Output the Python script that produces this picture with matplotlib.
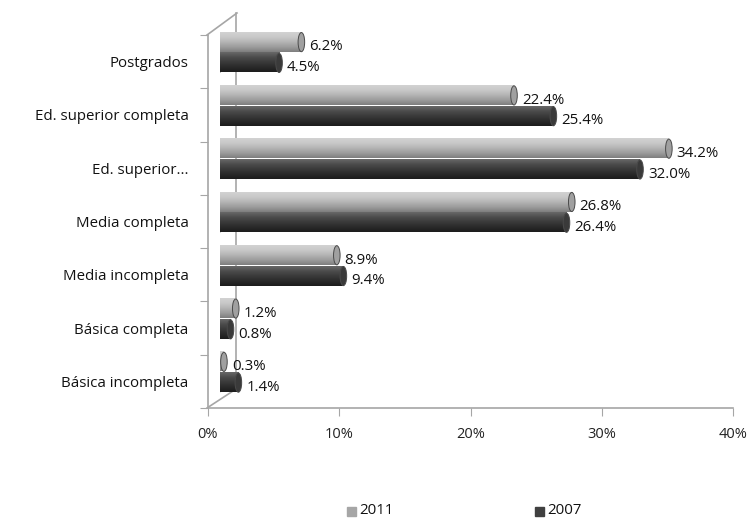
import numpy as np
import matplotlib.pyplot as plt
from matplotlib.colors import LinearSegmentedColormap
from matplotlib.patches import Ellipse
from matplotlib.lines import Line2D

# datos (de abajo hacia arriba)
categorias = ['Básica incompleta', 'Básica completa', 'Media incompleta',
              'Media completa', 'Ed. superior...', 'Ed. superior completa',
              'Postgrados']
v2011 = [0.3, 1.2, 8.9, 26.8, 34.2, 22.4, 6.2]
v2007 = [1.4, 0.8, 9.4, 26.4, 32.0, 25.4, 4.5]
xticks = [0, 10, 20, 30, 40]

plt.rcParams['font.family'] = ['Open Sans', 'DejaVu Sans']

W, H = 749, 518
fig = plt.figure(figsize=(W / 100, H / 100), dpi=100)


def rect(x0, ytop, x1, ybot):
    return [x0 / W, 1 - ybot / H, (x1 - x0) / W, (ybot - ytop) / H]


# eje frontal (escala y etiquetas)
ax = fig.add_axes(rect(208, 35, 733, 408))
ax.set_xlim(0, 40)
ax.set_ylim(0, 7)
for s in ['top', 'right']:
    ax.spines[s].set_visible(False)
for s in ['bottom', 'left']:
    ax.spines[s].set_color('#a6a6a6')
    ax.spines[s].set_linewidth(1.2)
ax.set_xticks(xticks)
ax.set_xticklabels([f'{t}%' for t in xticks], fontsize=10.5, color='#222222')
ax.tick_params(axis='x', direction='out', length=6, color='#a6a6a6', pad=8)
ax.set_yticks(range(8))
ax.set_yticklabels([])
ax.tick_params(axis='y', which='major', direction='out', length=6, color='#a6a6a6')
ax.set_yticks(np.arange(7) + 0.5, minor=True)
ax.set_yticklabels(categorias, minor=True, fontsize=10.8, color='#111111')
ax.tick_params(axis='y', which='minor', length=0, pad=14)
ax.patch.set_alpha(0)

# paredes "3D"
gris = '#a6a6a6'
for (x0, y0), (x1, y1) in [((207, 35), (237, 13)), ((207, 408), (233, 391)),
                           ((236, 13), (236, 391))]:
    fig.add_artist(Line2D([x0 / W, x1 / W], [1 - y0 / H, 1 - y1 / H],
                          color=gris, lw=1.2, zorder=0))

# eje de barras, desplazado hacia el fondo
axb = fig.add_axes(rect(208 + 12, 35 - 11, 733 + 12, 408 - 11))
axb.set_xlim(0, 40)
axb.set_ylim(0, 7)
axb.axis('off')
axb.patch.set_alpha(0)

cm_claro = LinearSegmentedColormap.from_list(
    'c', ['#7e7e7e', '#9c9c9c', '#b4b4b4', '#c8c8c8', '#d2d2d2'])
cm_osc = LinearSegmentedColormap.from_list(
    'o', ['#1c1c1c', '#2a2a2a', '#3a3a3a', '#4c4c4c', '#686868'])
grad = np.linspace(0, 1, 64).reshape(-1, 1)
alto = 0.36
cap = 0.5

for i in range(7):
    for val, y0, cmap, capc in [(v2011[i], i + 0.5 - 0.02, cm_claro, '#a0a0a0'),
                                (v2007[i], i + 0.5 - 0.02 - alto - 0.03, cm_osc, '#3a3a3a')]:
        axb.add_patch(Ellipse((0, y0 + alto / 2), cap, alto, facecolor=capc,
                              edgecolor='none', zorder=1))
        axb.imshow(grad, cmap=cmap, aspect='auto', origin='lower',
                   extent=(0, val, y0, y0 + alto), interpolation='bilinear', zorder=2)
        axb.add_patch(Ellipse((val, y0 + alto / 2), cap, alto, facecolor=capc,
                              edgecolor='#4a4a4a', lw=0.7, zorder=3))
        axb.text(val + cap / 2 + 0.35, y0 + alto / 2 - 0.09, f'{val:.1f}%',
                 fontsize=10.8, color='#111111', va='center', ha='left', zorder=4)

axb.set_xlim(0, 40)
axb.set_ylim(0, 7)

# leyenda
for x, c, lab in [(347, '#a6a6a6', '2011'), (535, '#404040', '2007')]:
    fig.patches.append(plt.Rectangle((x / W, 1 - 516 / H), 9 / W, 9 / H,
                                     color=c, transform=fig.transFigure, figure=fig))
    fig.text((x + 12) / W, 1 - 511 / H, lab, fontsize=10.8, color='#111111', va='center')

fig.savefig('out.png', dpi=100)
